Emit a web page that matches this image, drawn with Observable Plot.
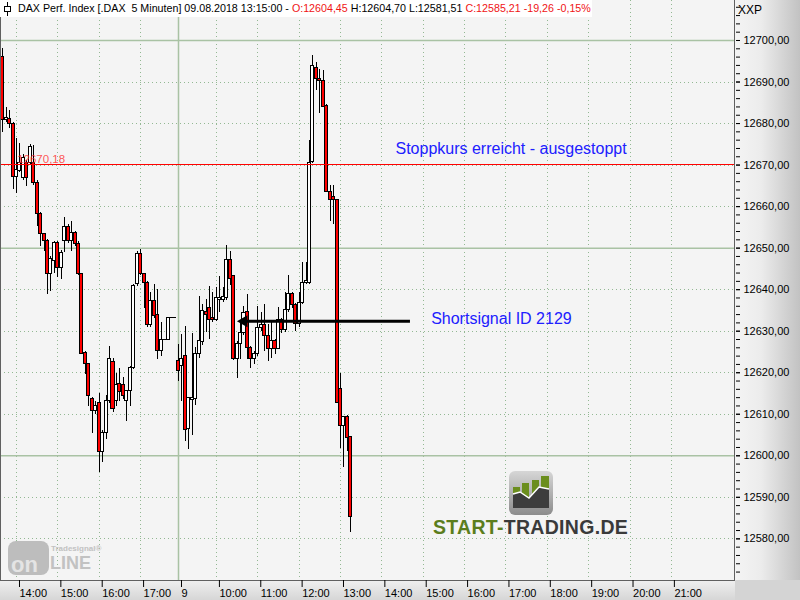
<!DOCTYPE html>
<html><head><meta charset="utf-8">
<script src="https://cdn.jsdelivr.net/npm/d3@7"></script>
<script src="https://cdn.jsdelivr.net/npm/@observablehq/plot@0.6"></script>
<style>
html,body{margin:0;padding:0;background:#f4f4f4;}
#wrap{position:relative;width:800px;height:600px;overflow:hidden;font-family:"Liberation Sans",Arial,sans-serif;}
#rightbg{position:absolute;left:735px;top:0;width:65px;height:580px;background:linear-gradient(to right,#f4f4f4 0%,#ececec 40%,#c2c2c2 100%);}
#bottombg{position:absolute;left:0;top:580px;width:735px;height:20px;background:linear-gradient(to bottom,#f0f0f0,#d6d6d6);}
#cornerbg{position:absolute;left:735px;top:580px;width:65px;height:20px;background:#d4d4d4;}
#wrap > svg{position:absolute;left:0;top:0;}
#title{position:absolute;left:0;top:0;height:17px;width:592px;background:#fff;font-size:10.7px;line-height:17px;white-space:pre;color:#000;}
#title .r{color:#f01414;}
#title svg{position:absolute;left:3px;top:2px;}
#title .t{position:absolute;left:18px;top:0;}
#xxp{position:absolute;left:738px;top:3px;font-size:12px;color:#000;}
#logo{position:absolute;left:430px;top:468px;}
#wm{position:absolute;left:6px;top:539px;}
</style></head>
<body>
<div id="wrap">
  <div id="rightbg"></div><div id="bottombg"></div><div id="cornerbg"></div>
</div>
<script>
// ---- data: 5-minute DAX bars, 08.08.2018 13:40 ... 09.08.2018 13:15 ----
const opens = [12696.0,12680.9,12681.1,12680.0,12667.2,12668.6,12667.0,12670.6,12670.4,12670.4,
12665.8,12658.2,12653.3,12651.7,12643.7,12646.9,12651.3,12645.3,12651.7,12655.1,
12651.7,12653.7,12650.9,12643.7,12624.7,12622.0,12613.7,12610.8,12612.7,12601.0,
12605.4,12613.1,12622.7,12613.1,12617.3,12617.1,12613.1,12615.5,12621.1,12641.3,
12648.5,12643.7,12641.7,12631.6,12637.2,12634.0,12625.2,12628.0,12628.0,12633.2,
12633.2,12622.9,12621.5,12624.0,12606.4,12613.4,12613.6,12624.4,12627.3,12634.6,
12635.6,12633.2,12632.8,12637.6,12637.5,12638.0,12647.1,12643.3,12623.2,12626.9,
12629.6,12634.6,12626.0,12623.2,12624.6,12630.7,12631.4,12628.8,12625.8,12627.6,
12625.8,12632.6,12630.2,12635.0,12639.0,12636.3,12631.7,12636.8,12641.6,12641.6,
12670.8,12693.3,12690.7,12690.3,12684.3,12663.5,12662.3,12661.6,12616.1,12607.2,
12609.3,12604.45];
const highs = [12698.0,12683.9,12683.1,12680.3,12676.3,12675.1,12672.6,12671.0,12675.0,12674.6,
12666.2,12658.5,12653.6,12652.0,12648.0,12651.7,12651.6,12649.5,12657.3,12655.8,
12656.5,12654.0,12651.7,12644.0,12625.0,12622.3,12614.0,12613.1,12615.1,12606.0,
12614.5,12626.4,12623.5,12619.9,12621.0,12618.9,12615.8,12621.5,12641.3,12649.3,
12649.7,12644.0,12642.0,12639.2,12641.3,12640.0,12632.0,12628.0,12633.2,12633.2,
12633.2,12626.8,12629.2,12631.2,12614.0,12629.5,12626.0,12638.4,12636.5,12637.6,
12640.8,12639.2,12640.5,12643.1,12640.5,12650.7,12649.3,12643.5,12627.5,12632.2,
12636.0,12638.8,12626.3,12625.0,12636.0,12634.5,12636.4,12631.7,12632.4,12628.0,
12635.6,12633.0,12639.2,12643.3,12639.3,12636.6,12639.2,12646.5,12646.6,12675.9,
12696.5,12694.8,12693.0,12692.8,12684.5,12665.0,12665.0,12661.8,12619.9,12609.5,
12609.8,12604.70];
const lows = [12677.9,12680.3,12678.7,12664.2,12663.1,12668.2,12666.2,12664.8,12669.8,12665.0,
12655.3,12650.5,12649.3,12638.9,12639.5,12644.0,12642.9,12642.5,12649.0,12651.0,
12649.3,12650.5,12643.5,12624.3,12619.5,12611.9,12605.4,12610.0,12596.0,12598.5,
12604.0,12612.5,12610.5,12611.9,12613.0,12613.5,12608.3,12611.9,12620.8,12640.8,
12643.4,12635.5,12631.0,12631.0,12633.0,12623.2,12624.0,12628.0,12628.0,12633.2,
12633.2,12617.9,12613.1,12603.4,12601.4,12605.0,12612.0,12623.5,12626.5,12629.6,
12628.0,12632.0,12632.3,12634.5,12637.0,12637.5,12641.0,12623.0,12618.7,12623.2,
12629.0,12623.2,12621.1,12622.0,12624.0,12630.0,12625.2,12622.7,12623.5,12624.5,
12625.5,12629.5,12629.8,12634.5,12635.5,12630.0,12631.0,12636.5,12641.3,12641.3,
12670.5,12687.9,12682.3,12684.0,12663.3,12656.5,12655.7,12612.5,12601.8,12597.2,
12601.0,12581.51];
const closes = [12680.9,12681.4,12680.0,12667.2,12668.8,12670.6,12671.7,12667.0,12674.4,12665.8,
12658.2,12653.3,12651.7,12643.7,12647.4,12651.3,12645.3,12648.9,12655.1,12651.7,
12653.7,12650.9,12643.7,12624.5,12622.0,12614.3,12610.8,12612.1,12601.0,12605.4,
12613.1,12623.2,12611.3,12617.1,12615.3,12614.3,12615.5,12621.1,12641.0,12648.5,
12643.7,12641.7,12631.6,12637.2,12633.6,12625.2,12628.0,12628.0,12633.2,12633.2,
12633.2,12620.3,12623.3,12606.1,12613.9,12613.9,12624.4,12627.6,12634.8,12634.0,
12632.8,12632.6,12637.9,12638.0,12638.2,12647.1,12642.5,12623.2,12627.0,12629.6,
12634.4,12626.0,12623.2,12624.6,12630.8,12631.6,12628.8,12625.8,12627.6,12625.8,
12632.6,12630.2,12635.0,12639.0,12636.3,12631.7,12636.7,12641.6,12642.0,12670.6,
12693.8,12690.7,12690.3,12684.1,12663.4,12661.6,12661.7,12612.7,12607.2,12609.3,
12604.2,12585.21];

// x axis: bar index of each labelled hour, and its label
const hourTickBars   = [4,16,28,40,51,62,74,86,98,110,122,134,146,158,170,182,194];
const hourTickLabels = ["14:00","15:00","16:00","17:00","9","10:00","11:00","12:00","13:00",
                        "14:00","15:00","16:00","17:00","18:00","19:00","20:00","21:00"];
const dayBreakBar = 51;

// price axis ticks
const priceLabelTicks = [12580,12590,12600,12610,12620,12630,12640,12650,12660,12670,12680,12690,12700];
const priceMinorTicks = d3.range(12572, 12709, 2);
const priceSolidGrid  = [12600,12650,12700];

// stop level and annotations
const stopLevel = 12670.18;
const stopLabel = [{bar: 4.2, price: stopLevel, text: "12670,18"}];
const notes = [
  {bar: 113.95, price: 12673.8, text: "Stoppkurs erreicht - ausgestoppt"},
  {bar: 124.3,  price: 12632.85, text: "Shortsignal ID 2129"}
];
const signalArrow = [{from: 118.3, to: 69.4, price: 12632.4}];
const headerChange = "-19,26 -0,15%";

// ---- build ----
const bars = opens.map((o, i) => ({i, open: o, high: highs[i], low: lows[i], close: closes[i]}));
const flatBars = bars.filter(d => d.open === d.close);
const de = v => v.toFixed(2).replace(".", ",");
const labelOf = new Map(hourTickBars.map((b, k) => [b, hourTickLabels[k]]));
const X0 = -0.64, X1 = 212.6, Y0 = 12569.97, Y1 = 12709.63;

const chart = Plot.plot({
  width: 800, height: 600,
  marginTop: 0, marginLeft: 0, marginRight: 65, marginBottom: 20,
  style: {background: "transparent", fontFamily: "'Liberation Sans', Arial, sans-serif", fontSize: "11px", color: "#000"},
  x: {type: "linear", domain: [X0, X1]},
  y: {type: "linear", domain: [Y0, Y1]},
  marks: [
    Plot.frame({fill: "#f4f4f4"}),
    Plot.ruleY(priceLabelTicks.filter(v => !priceSolidGrid.includes(v)), {stroke: "#93b893", strokeDasharray: "1,3", shapeRendering: "crispEdges"}),
    Plot.ruleX(hourTickBars.filter(b => b !== dayBreakBar), {stroke: "#93b893", strokeDasharray: "1,3", shapeRendering: "crispEdges"}),
    Plot.ruleY(priceSolidGrid, {stroke: "#a9c2a4", strokeWidth: 1.5}),
    Plot.ruleX([dayBreakBar], {stroke: "#a9c2a4", strokeWidth: 1.5}),
    Plot.ruleX(bars, {x: "i", y1: "low", y2: "high", stroke: "#000", shapeRendering: "crispEdges"}),
    Plot.rect(bars.filter(d => d.open !== d.close), {
      x1: d => d.i - 0.44, x2: d => d.i + 0.44, y1: "open", y2: "close",
      fill: d => d.close < d.open ? "#ff0000" : "#ffffff", stroke: "#000", strokeWidth: 1, shapeRendering: "crispEdges"
    }),
    Plot.ruleY(flatBars, {x1: d => d.i - 0.5, x2: d => d.i + 0.5, y: "close", stroke: "#000", shapeRendering: "crispEdges"}),
    Plot.text(stopLabel, {x: "bar", y: "price", text: "text", textAnchor: "start", fill: "#ff2a2a", fillOpacity: 0.8, fontSize: 11.5, dy: -5}),
    Plot.ruleY([stopLevel], {stroke: "#ff0000", shapeRendering: "crispEdges"}),
    Plot.ruleY(signalArrow, {x1: "to", x2: "from", y: "price", stroke: "#000", strokeWidth: 3}),
    Plot.dot(signalArrow, {x: "to", y: "price", symbol: "triangle", rotate: -90, r: 4.5, fill: "#000", dx: 2}),
    Plot.text(notes, {x: "bar", y: "price", text: "text", textAnchor: "start", fill: "#2020ff", fontSize: 16}),
    Plot.ruleX([X0], {stroke: "#606060"}),
    Plot.ruleX([X1], {stroke: "#606060", dx: -1}),
    Plot.ruleY([Y0], {stroke: "#606060"}),
    Plot.axisY({anchor: "right", ticks: priceMinorTicks, tickSize: 4, tickFormat: () => "", label: null}),
    Plot.axisY({anchor: "right", ticks: priceLabelTicks, tickSize: 4, tickPadding: 4, tickFormat: de, label: null}),
    Plot.axisX({ticks: hourTickBars, tickSize: 7, tickPadding: 2, tickFormat: d => labelOf.get(d), textAnchor: "start", dx: 3, label: null})
  ]
});
const wrap = document.getElementById("wrap");
wrap.appendChild(chart);

// header line (values of the last bar)
const last = bars[bars.length - 1];
const title = document.createElement("div");
title.id = "title";
title.innerHTML =
  '<svg width="10" height="14"><line x1="4.5" y1="0" x2="4.5" y2="14" stroke="#000"/><rect x="1.5" y="4.5" width="6" height="5" fill="#fff" stroke="#000"/></svg>' +
  '<span class="t">DAX Perf. Index [.DAX  5 Minuten] 09.08.2018 13:15:00 - <span class="r">O:' + de(last.open) +
  '</span> H:' + de(last.high) + ' L:' + de(last.low) + ' <span class="r">C:' + de(last.close) + ' ' + headerChange + '</span></span>';
wrap.appendChild(title);

const xxp = document.createElement("div");
xxp.id = "xxp"; xxp.textContent = "XXP";
wrap.appendChild(xxp);

// start-trading.de logo
const logo = document.createElement("div");
logo.id = "logo";
logo.innerHTML = `<svg width="210" height="70">
 <defs><linearGradient id="lg" x1="0" y1="0" x2="0" y2="1"><stop offset="0" stop-color="#d6d6d6"/><stop offset="1" stop-color="#8c8c8c"/></linearGradient></defs>
 <rect x="79" y="3" width="44" height="44" rx="6" fill="url(#lg)"/>
 <polygon points="83,19 90,19 90,40 83,40" fill="#6b8e1e"/>
 <polygon points="92,15 99,15 99,40 92,40" fill="#6b8e1e"/>
 <polygon points="102,12 109,12 109,40 102,40" fill="#6b8e1e"/>
 <polygon points="111,8 119,8 119,40 111,40" fill="#6b8e1e"/>
 <polygon points="83,26 90,24 99,30 109,19 119,21 119,40 83,40" fill="#3d3d3d"/>
 <polyline points="83,26 90,24 99,30 109,19 119,21" fill="none" stroke="#fff" stroke-width="1.5"/>
 <text x="3" y="66" font-family="Liberation Sans, Arial, sans-serif" font-weight="bold" font-size="19.5" letter-spacing="0.3"><tspan fill="#5b7d1c">START-</tspan><tspan fill="#3a3a3a">TRADING.DE</tspan></text>
</svg>`;
wrap.appendChild(logo);

// tradesignal online watermark
const wm = document.createElement("div");
wm.id = "wm";
wm.innerHTML = `<svg width="110" height="40">
 <rect x="2" y="2" width="41" height="34" rx="8" fill="#bdbdbd"/>
 <text x="5" y="33" font-family="Liberation Sans, Arial, sans-serif" font-weight="bold" font-size="22" fill="#e4e4e4">on</text>
 <text x="44" y="30" font-family="Liberation Sans, Arial, sans-serif" font-weight="bold" font-size="18" fill="#c2c2c2">LINE</text>
 <text x="45" y="12" font-family="Liberation Sans, Arial, sans-serif" font-weight="bold" font-size="8" fill="#c2c2c2">Tradesignal®</text>
</svg>`;
wrap.appendChild(wm);
</script>
</body></html>
